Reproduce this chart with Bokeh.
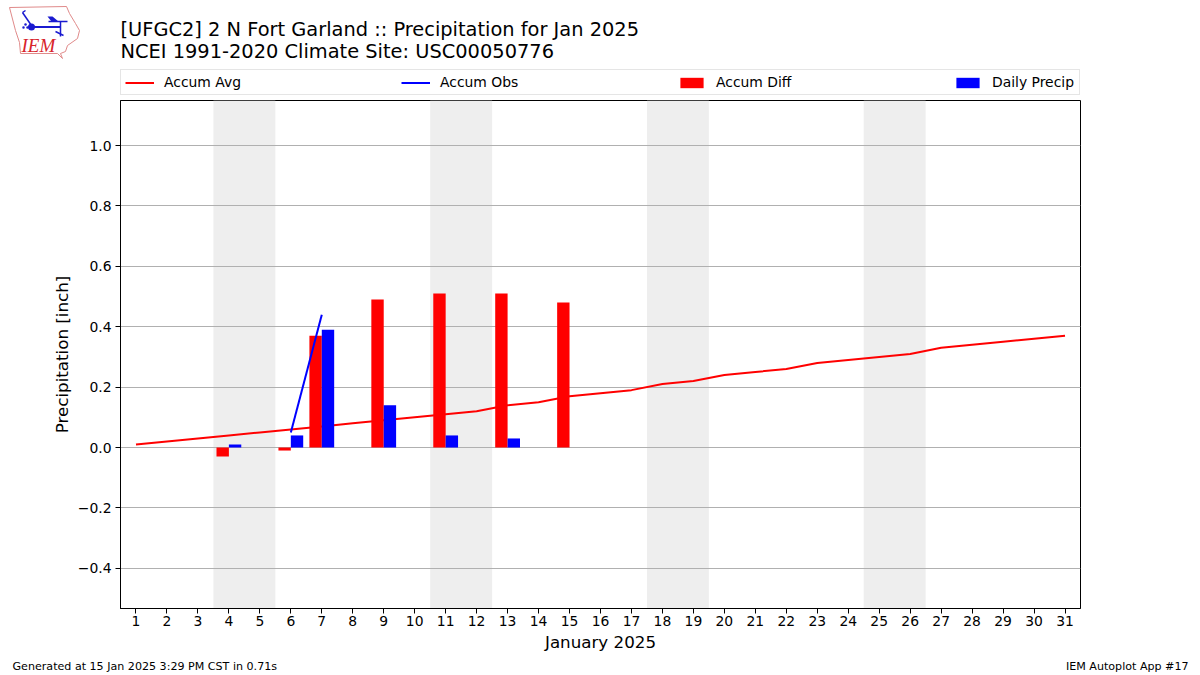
from bokeh.plotting import figure
from bokeh.layouts import column
from bokeh.embed import file_html
from bokeh.resources import INLINE
from bokeh.core.properties import value
from bokeh.models import Legend, LegendItem, FixedTicker, Range1d

TITLE_1 = "[UFGC2] 2 N Fort Garland :: Precipitation for Jan 2025"
TITLE_2 = "NCEI 1991-2020 Climate Site: USC00050776"
XLABEL = "January 2025"
YLABEL = "Precipitation [inch]"
FOOT_L = "Generated at 15 Jan 2025 3:29 PM CST in 0.71s"
FOOT_R = "IEM Autoplot App #17"

days = list(range(1, 32))
accum_avg = [0.01, 0.02, 0.03, 0.04, 0.05, 0.06, 0.07, 0.08, 0.09, 0.10, 0.11, 0.12, 0.14, 0.15, 0.17,
             0.18, 0.19, 0.21, 0.22, 0.24, 0.25, 0.26, 0.28, 0.29, 0.30, 0.31, 0.33, 0.34, 0.35, 0.36, 0.37]
obs_days = [6, 7]
accum_obs = [0.05, 0.44]
diff_days = [4, 6, 7, 9, 11, 13, 15]
accum_diff = [-0.03, -0.01, 0.37, 0.49, 0.51, 0.51, 0.48]
precip_days = [4, 6, 7, 9, 11, 13]
daily_precip = [0.01, 0.04, 0.39, 0.14, 0.04, 0.03]
weekend_start = [3.5, 10.5, 17.5, 24.5]
weekend_end = [5.5, 12.5, 19.5, 26.5]
y_ticks = [-0.4, -0.2, 0.0, 0.2, 0.4, 0.6, 0.8, 1.0]
y_tick_labels = ["\u22120.4", "\u22120.2", "0.0", "0.2", "0.4", "0.6", "0.8", "1.0"]

FONT = "DejaVu Sans"
BAR_W = 0.4
WIDTH = 1200
HEAD_H = 96
FOOT_H = 20
RED = "red"
BLUE = "blue"


def strip(height, y0):
    """A borderless figure whose data coordinates are page pixels."""
    f = figure(width=WIDTH, height=height, output_backend="svg", toolbar_location=None,
               x_range=Range1d(0, WIDTH), y_range=Range1d(y0 + height, y0),
               x_axis_type=None, y_axis_type=None, frame_align=False,
               min_border_left=0, min_border_right=0, min_border_top=0, min_border_bottom=0)
    f.outline_line_color = None
    f.grid.visible = False
    return f


head = strip(HEAD_H, 0)
head.text(x=[120, 120], y=[29, 51], text=[TITLE_1, TITLE_2], text_font=value(FONT),
          text_font_size="19.4px", text_color="black", text_baseline="middle")

# IEM logo, drawn as decoration in page pixels
iowa_x = [9, 66, 69, 75, 79, 77, 67, 65, 60, 62, 57, 20, 19, 15, 9]
iowa_y = [7, 6, 13, 23, 30, 38, 45, 51, 53, 58, 53, 53, 42, 30, 7]
head.patch(iowa_x, iowa_y, fill_color=None, line_color="#e08a8a", line_width=1)
head.line([32, 60], [26.5, 26.5], line_color="#1a1ad0", line_width=2)
head.line([32, 22], [26.5, 12], line_color="#1a1ad0", line_width=1.5)
head.line([22, 25], [12, 10], line_color="#1a1ad0", line_width=1.5)
head.scatter([31], [26.5], size=7, fill_color="#1a1ad0", line_color=None)
head.patch([47, 52, 58, 51], [16, 16, 21, 21], fill_color="#1a1ad0", line_color=None)
head.line([48, 67], [21, 21], line_color="#1a1ad0", line_width=1.5)
head.line([60, 60], [21, 36], line_color="#1a1ad0", line_width=1.5)
head.line([55, 63], [31, 35], line_color="#1a1ad0", line_width=1.5)
head.scatter([23, 27, 25], [27, 27, 24], size=2.5, fill_color="#1a1ad0", line_color=None)
head.text(x=[21], y=[45], text=["IEM"], text_font=value("Liberation Serif"), text_font_style="italic",
          text_font_size="19px", text_color="#d8232a", text_baseline="middle")

# Legend keys live in the header strip (hidden glyphs), because annotations are clipped to a frame
k_avg = head.line(days, accum_avg, line_color=RED, line_width=2, visible=False)
k_obs = head.line(obs_days, accum_obs, line_color=BLUE, line_width=2, visible=False)
k_diff = head.vbar(x=diff_days, width=BAR_W, top=accum_diff, fill_color=RED, line_color=None, visible=False)
k_prec = head.vbar(x=precip_days, width=BAR_W, top=daily_precip, fill_color=BLUE, line_color=None, visible=False)
legend = Legend(items=[LegendItem(label="Accum Avg", renderers=[k_avg]),
                       LegendItem(label="Accum Obs", renderers=[k_obs]),
                       LegendItem(label="Accum Diff", renderers=[k_diff]),
                       LegendItem(label="Daily Precip", renderers=[k_prec])],
                orientation="horizontal", ncols=4, nrows=1, location=(120, 1), spacing=154,
                padding=4, margin=0,
                glyph_width=29, glyph_height=13, label_standoff=10, label_height=15, label_width=83,
                label_text_font=FONT, label_text_font_size="13.9px", label_text_color="black",
                border_line_color="#cccccc", border_line_width=1)
head.add_layout(legend, "center")

p = figure(width=WIDTH, height=559, output_backend="svg", toolbar_location=None,
           x_range=Range1d(0.5, 31.5), y_range=Range1d(-0.533, 1.149), frame_align=False,
           min_border_left=120, min_border_right=120, min_border_top=4, min_border_bottom=47)
p.outline_line_color = "black"
p.outline_line_width = 1

p.xgrid.visible = False
p.ygrid.grid_line_color = "#b0b0b0"
p.ygrid.grid_line_width = 1
p.ygrid.level = "underlay"

p.xaxis.ticker = FixedTicker(ticks=days)
p.yaxis.ticker = FixedTicker(ticks=y_ticks)
p.yaxis.major_label_overrides = dict(zip(y_ticks, y_tick_labels))
for ax in (p.xaxis[0], p.yaxis[0]):
    ax.major_tick_out = 5
    ax.major_tick_in = 0
    ax.minor_tick_out = 0
    ax.minor_tick_in = 0
    ax.major_label_text_font = FONT
    ax.major_label_text_font_size = "13.9px"
    ax.major_label_text_color = "black"
    ax.axis_label_text_font = FONT
    ax.axis_label_text_font_size = "16.7px"
    ax.axis_label_text_font_style = "normal"
    ax.axis_label_text_color = "black"
    ax.axis_line_color = "black"
    ax.major_tick_line_color = "black"
p.xaxis.axis_label = XLABEL
p.yaxis.axis_label = YLABEL
p.xaxis.major_label_standoff = 2
p.yaxis.major_label_standoff = 4
p.xaxis.axis_label_standoff = 3
p.yaxis.axis_label_standoff = 3

p.quad(left=weekend_start, right=weekend_end, bottom=-0.533, top=1.149,
       fill_color="#eeeeee", line_color=None, level="image")

p.line(days, accum_avg, line_color=RED, line_width=2)
p.vbar(x=[d - BAR_W / 2 for d in diff_days], width=BAR_W, bottom=0, top=accum_diff,
       fill_color=RED, line_color=None)
p.line(obs_days, accum_obs, line_color=BLUE, line_width=2)
p.vbar(x=[d + BAR_W / 2 for d in precip_days], width=BAR_W, bottom=0, top=daily_precip,
       fill_color=BLUE, line_color=None)

foot = strip(FOOT_H, 655)
foot.text(x=[12], y=[666], text=[FOOT_L], text_font=value(FONT), text_font_size="11.1px",
          text_color="black", text_baseline="middle")
foot.text(x=[1188], y=[666], text=[FOOT_R], text_font=value(FONT), text_font_size="11.1px",
          text_color="black", text_align="right", text_baseline="middle")

page = column(head, p, foot, spacing=0)
open("out.html", "w").write(file_html(page, INLINE))
